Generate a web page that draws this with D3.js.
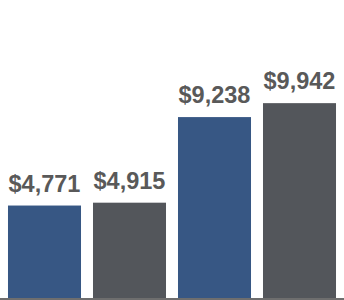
<!DOCTYPE html>
<html>
<head>
<meta charset="utf-8">
<script src="https://cdn.jsdelivr.net/npm/d3@7"></script>
<style>
  body { margin: 0; background: #fff; }
  svg { display: block; }
</style>
</head>
<body>
<div class="chart"></div>
<script>
var svgWidth = 344;
var svgHeight = 300;

// chart data
var categories = ["Group 1 A", "Group 1 B", "Group 2 A", "Group 2 B"];
var series = ["A", "B", "A", "B"];
var values = [4771, 4915, 9238, 9942];

var colors = { A: "#375784", B: "#53565b" };

var svg = d3.select(".chart")
  .append("svg")
  .attr("width", svgWidth)
  .attr("height", svgHeight);

var xScale = d3.scaleBand()
  .domain(categories)
  .range([0, svgWidth])
  .paddingInner(0.141)
  .paddingOuter(0.094);

var yScale = d3.scaleLinear()
  .domain([0, 10000])
  .range([300, 102]);

var data = categories.map(function(c, i) {
  return { cat: c, series: series[i], value: values[i] };
});

// bars
svg.selectAll("rect.bar")
  .data(data)
  .enter()
  .append("rect")
  .attr("class", "bar")
  .attr("x", d => xScale(d.cat))
  .attr("y", d => yScale(d.value))
  .attr("width", xScale.bandwidth())
  .attr("height", d => yScale(0) - yScale(d.value))
  .attr("fill", d => colors[d.series]);

// value labels
svg.selectAll("text.label")
  .data(data)
  .enter()
  .append("text")
  .attr("class", "label")
  .attr("x", d => xScale(d.cat) + xScale.bandwidth() / 2)
  .attr("y", d => yScale(d.value) - 14)
  .attr("text-anchor", "middle")
  .attr("font-family", "'Liberation Sans', Arial, sans-serif")
  .attr("font-weight", "bold")
  .attr("font-size", "23.5px")
  .attr("fill", "#595959")
  .text(d => "$" + d3.format(",")(d.value));

// baseline
svg.append("line")
  .attr("x1", 0)
  .attr("x2", svgWidth)
  .attr("y1", 299)
  .attr("y2", 299)
  .attr("stroke", "#6e6e6e")
  .attr("stroke-width", 2);
</script>
</body>
</html>
